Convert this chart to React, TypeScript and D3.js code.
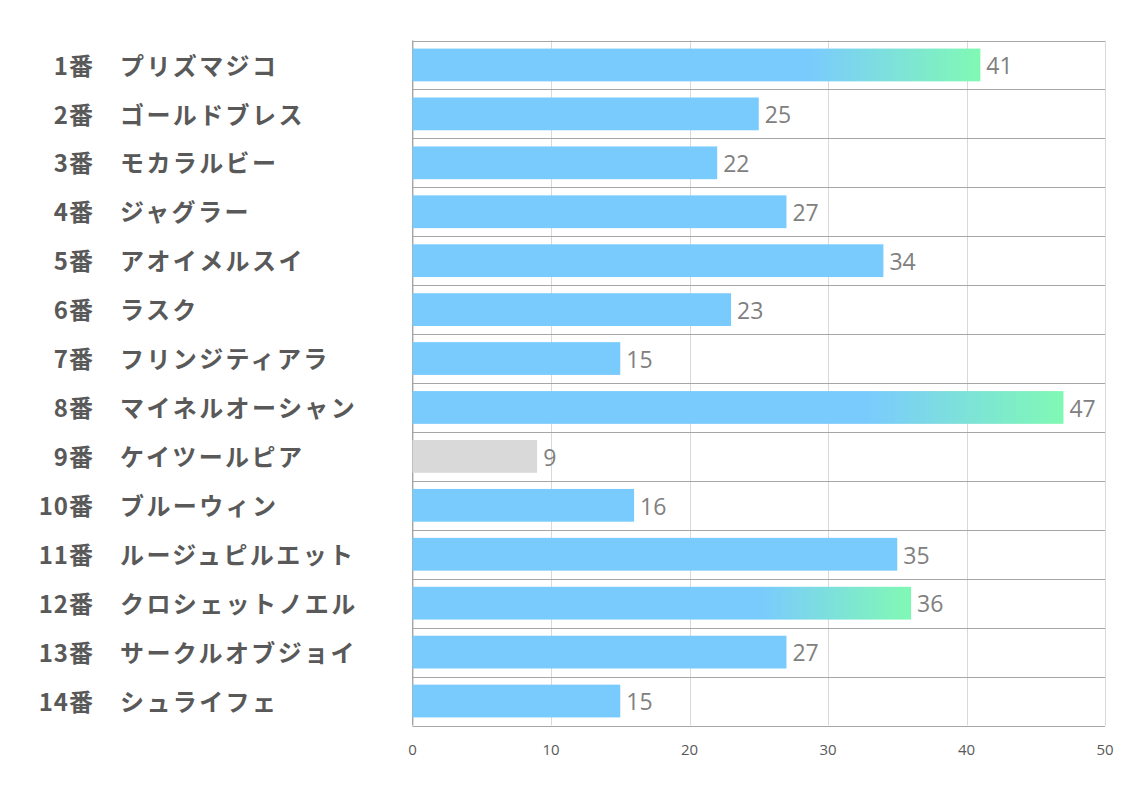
import React from "react";
import * as d3 from "d3";

const numbers = ["1番","2番","3番","4番","5番","6番","7番","8番","9番","10番","11番","12番","13番","14番"];
const names = ["プリズマジコ","ゴールドブレス","モカラルビー","ジャグラー","アオイメルスイ","ラスク","フリンジティアラ","マイネルオーシャン","ケイツールピア","ブルーウィン","ルージュピルエット","クロシェットノエル","サークルオブジョイ","シュライフェ"];
const values = [41,25,22,27,34,23,15,47,9,16,35,36,27,15];
const highlighted = [true,false,false,false,false,false,false,true,false,false,false,true,false,false];
const greyed = [false,false,false,false,false,false,false,false,true,false,false,false,false,false];
const ticks = [0,10,20,30,40,50];

export default function App() {
  const W = 1134, H = 793;
  const left = 412.5, right = 1105, top = 40.5, bottom = 725.5;
  const x = d3.scaleLinear().domain([0, 50]).range([left, right]);
  const y = d3.scaleBand<number>().domain(d3.range(values.length)).range([top, bottom]).paddingInner(0).paddingOuter(0);
  const bw = y.bandwidth();
  const barH = bw * 0.67;
  const labelFont = "'Noto Sans CJK JP', 'Noto Sans', sans-serif";
  const numFont = "'Open Sans', 'Noto Sans', sans-serif";
  return (
    <svg width={W} height={H} style={{ position: "absolute", left: 0, top: 0, background: "#fff" }}>
      <defs>
        <linearGradient id="hl" x1="0" x2="1" y1="0" y2="0">
          <stop offset="0.7" stopColor="#7acbfd" />
          <stop offset="1" stopColor="#80f9b4" />
        </linearGradient>
      </defs>
      {ticks.map((t) => (
        <line key={"v" + t} x1={Math.round(x(t)) + 0.5} x2={Math.round(x(t)) + 0.5} y1={top} y2={bottom} stroke="#d9d9d9" strokeWidth={1} />
      ))}
      {d3.range(values.length + 1).map((i) => (
        <line key={"h" + i} x1={left} x2={right} y1={Math.round(top + i * bw) + 0.5} y2={Math.round(top + i * bw) + 0.5} stroke="#a6a6a6" strokeWidth={1} />
      ))}
      <line x1={left} x2={left} y1={top} y2={bottom} stroke="#a6a6a6" strokeWidth={1} />
      {values.map((v, i) => {
        const by = (y(i) as number) + (bw - barH) / 2;
        const cy = (y(i) as number) + bw / 2 + 1;
        const fill = greyed[i] ? "#d9d9d9" : highlighted[i] ? "url(#hl)" : "#7acbfd";
        return (
          <g key={i}>
            <rect x={x(0)} y={by} width={x(v) - x(0)} height={barH} fill={fill} />
            <text x={x(v) + 6} y={cy} dy="0.36em" fontFamily={numFont} fontSize={23} fill="#808080">{v}</text>
            <text x={93 + 1} y={cy} dy="0.36em" textAnchor="end" fontFamily={labelFont} fontWeight={700} fontSize={24} fill="#595959" letterSpacing={1}>{numbers[i]}</text>
            <text x={120} y={cy} dy="0.36em" fontFamily={labelFont} fontWeight={700} fontSize={24} fill="#595959" letterSpacing={2.4}>{names[i]}</text>
          </g>
        );
      })}
      {ticks.map((t) => (
        <text key={"t" + t} x={x(t)} y={750} dy="0.35em" textAnchor="middle" fontFamily={numFont} fontSize={15} fill="#595959">{t}</text>
      ))}
    </svg>
  );
}
